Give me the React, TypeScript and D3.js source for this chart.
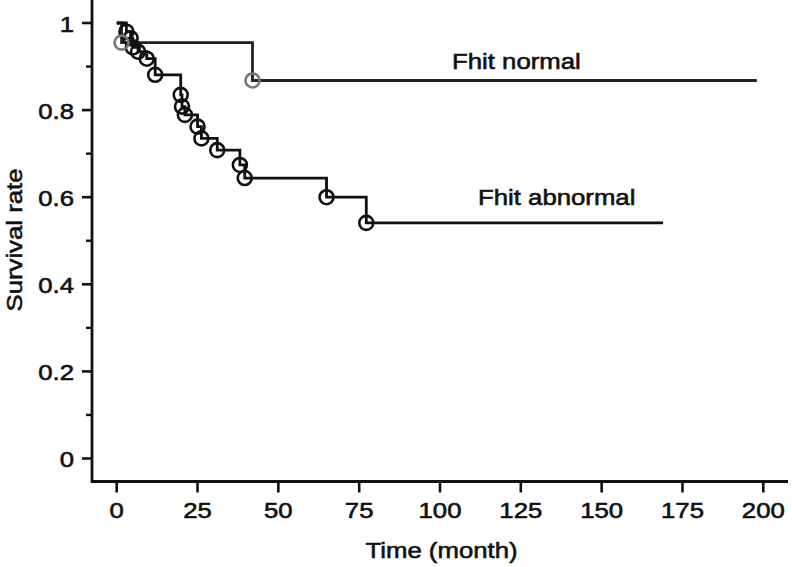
import React from "react";
import * as d3 from "d3";

// Fhit normal: event times (months) and survival after each event
const normalTimes = [1.5, 42];
const normalSurv = [0.955, 0.868];
const normalEnd = 198;

// Fhit abnormal
const abnormalTimes = [3, 4.3, 5, 6.6, 9.3, 11.9, 19.8, 20.2, 21.1, 25, 26.2, 31.1, 38.1, 39.6, 64.9, 77.2];
const abnormalSurv = [0.98, 0.965, 0.944, 0.934, 0.918, 0.881, 0.835, 0.808, 0.789, 0.762, 0.735, 0.708, 0.674, 0.644, 0.6, 0.541];
const abnormalEnd = 169;

const xTicks = [0, 25, 50, 75, 100, 125, 150, 175, 200];
const yTicks = [0, 0.2, 0.4, 0.6, 0.8, 1];
const yMinorTicks = [0.1, 0.3, 0.5, 0.7, 0.9];

const W = 792;
const H = 567;
const FONT = "'Liberation Sans', Arial, Helvetica, sans-serif";
const SX = 1.12;

function buildSteps(times: number[], surv: number[], end: number): [number, number][] {
  const pts: [number, number][] = [[0, 1]];
  times.forEach((t, i) => pts.push([t, surv[i]]));
  pts.push([end, surv[surv.length - 1]]);
  return pts;
}

export default function App() {
  const x = d3.scaleLinear().domain([0, 200]).range([116.7, 763.3]);
  const y = d3.scaleLinear().domain([0, 1]).range([458.5, 23]);
  const line = d3
    .line<[number, number]>()
    .x((d) => x(d[0]))
    .y((d) => y(d[1]))
    .curve(d3.curveStepAfter);

  const axisX = 92;
  const axisY = 481.5;
  const fmt = (v: number) => (v === 0 ? "0" : v === 1 ? "1" : d3.format(".1f")(v));

  const normalPts = buildSteps(normalTimes, normalSurv, normalEnd);
  const abnPts = buildSteps(abnormalTimes, abnormalSurv, abnormalEnd);

  const textStyle = { stroke: "#111", strokeWidth: 0.6 } as const;

  return (
    <svg
      width={W}
      height={H}
      style={{ position: "absolute", left: 0, top: 0, background: "#fff" }}
      fontFamily={FONT}
    >
      <rect width={W} height={H} fill="#fff" />
      {/* axes */}
      <line x1={axisX} x2={axisX} y1={0} y2={axisY + 1} stroke="#111" strokeWidth={2.8} />
      <line x1={axisX - 1} x2={788} y1={axisY} y2={axisY} stroke="#111" strokeWidth={2.8} />
      {yTicks.map((v) => (
        <g key={"y" + v}>
          <line x1={axisX - 10} x2={axisX} y1={y(v)} y2={y(v)} stroke="#111" strokeWidth={2.6} />
          <text
            transform={`translate(74,${y(v) + 8.5}) scale(${SX},1)`}
            textAnchor="end"
            fontSize={23}
            fill="#111"
            {...textStyle}
          >
            {fmt(v)}
          </text>
        </g>
      ))}
      {yMinorTicks.map((v) => (
        <line key={"m" + v} x1={axisX - 6} x2={axisX} y1={y(v)} y2={y(v)} stroke="#111" strokeWidth={2.4} />
      ))}
      {xTicks.map((v) => (
        <g key={"x" + v}>
          <line x1={x(v)} x2={x(v)} y1={axisY} y2={axisY + 11} stroke="#111" strokeWidth={2.6} />
          <text
            transform={`translate(${x(v)},${518}) scale(${SX},1)`}
            textAnchor="middle"
            fontSize={23}
            fill="#111"
            {...textStyle}
          >
            {v}
          </text>
        </g>
      ))}
      <text
        transform={`translate(441.5,558) scale(${SX},1)`}
        textAnchor="middle"
        fontSize={23}
        fill="#111"
        {...textStyle}
      >
        Time (month)
      </text>
      <text
        transform={`translate(22,240) rotate(-90) scale(${SX},1)`}
        textAnchor="middle"
        fontSize={23}
        fill="#111"
        {...textStyle}
      >
        Survival rate
      </text>

      {/* curves */}
      <path d={line(normalPts) || ""} fill="none" stroke="#222" strokeWidth={2.8} />
      <path d={line(abnPts) || ""} fill="none" stroke="#111" strokeWidth={2.8} />
      {abnormalTimes.map((t, i) => (
        <circle key={"a" + i} cx={x(t)} cy={y(abnormalSurv[i])} r={7} fill="none" stroke="#111" strokeWidth={2.6} />
      ))}
      {normalTimes.map((t, i) => (
        <circle key={"n" + i} cx={x(t)} cy={y(normalSurv[i])} r={7} fill="none" stroke="#777" strokeWidth={2.6} />
      ))}

      {/* labels */}
      <text transform={`translate(452,68.5) scale(${SX},1)`} fontSize={23} fill="#111" {...textStyle}>
        Fhit normal
      </text>
      <text transform={`translate(478,205) scale(${SX},1)`} fontSize={23} fill="#111" {...textStyle}>
        Fhit abnormal
      </text>
    </svg>
  );
}
